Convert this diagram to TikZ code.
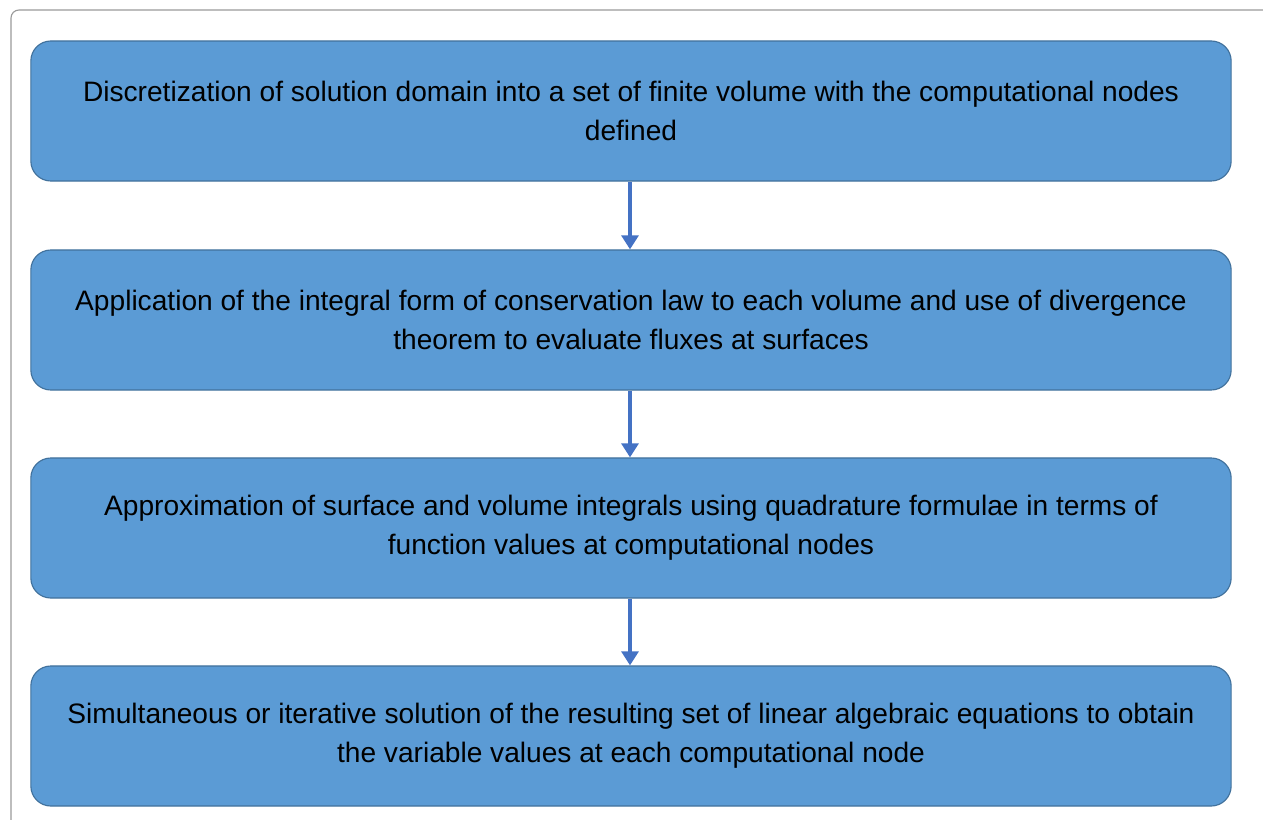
\documentclass[tikz,border=0pt]{standalone}
\usepackage{fontspec}
\setmainfont{Liberation Sans}
\usetikzlibrary{arrows.meta}

\definecolor{boxfill}{HTML}{5B9BD5}
\definecolor{boxline}{HTML}{41719C}
\definecolor{arrowblue}{HTML}{4472C4}

\tikzset{
  stagebox/.style={draw=boxline, line width=0.8pt, fill=boxfill, rounded corners=0.5cm,
    minimum width=30cm, minimum height=3.5cm, align=center, text=black,
    font=\fontsize{20}{27.5}\selectfont},
  stagearrow/.style={draw=arrowblue, line width=2.4pt, -{Triangle[width=12pt,length=10pt]}}
}

\begin{document}
\begin{tikzpicture}[x=0.025cm,y=-0.025cm]
  \useasboundingbox (0,0) rectangle (1263,820);
  \draw[gray!80, line width=0.8pt, rounded corners=0.2cm] (1263,10) -- (11,10) -- (11,820);

  \node[stagebox] (disc)  at (631,111) {Discretization of solution domain into a set of finite volume with the computational nodes\\ defined};
  \node[stagebox] (cons)  at (631,320) {Application of the integral form of conservation law to each volume and use of divergence\\ theorem to evaluate fluxes at surfaces};
  \node[stagebox] (quad)  at (631,528) {Approximation of surface and volume integrals using quadrature formulae in terms of\\ function values at computational nodes};
  \node[stagebox] (solve) at (631,736) {Simultaneous or iterative solution of the resulting set of linear algebraic equations to obtain\\ the variable values at each computational node};

  \draw[stagearrow] (disc.south -| 630,0) -- (cons.north -| 630,0);
  \draw[stagearrow] (cons.south -| 630,0) -- (quad.north -| 630,0);
  \draw[stagearrow] (quad.south -| 630,0) -- (solve.north -| 630,0);
\end{tikzpicture}
\end{document}
